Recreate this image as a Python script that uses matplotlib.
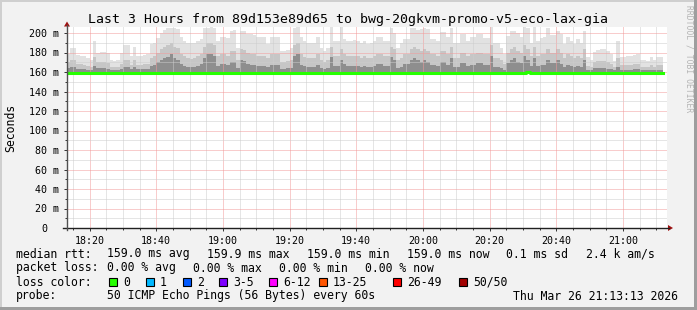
import matplotlib
matplotlib.use("Agg")
import matplotlib.pyplot as plt
import matplotlib.transforms as mtransforms
import numpy as np
from matplotlib.lines import Line2D
from matplotlib.patches import Rectangle, Polygon

W, H = 697, 310
MONO = "DejaVu Sans Mono"

# time axis in minutes since midnight, one smoke column per minute
col_start = 18 * 60 + 13
view_start = 18 * 60 + 13 + 13 / 60
view_end = view_start + 180

# smoke: top of the lightest band (max ping), mid band and dark band, in ms
smoke_max = [
    178, 185, 185, 177, 176, 176, 174, 172, 192, 180,
    181, 181, 180, 172, 171, 172, 179, 188, 188, 176,
    186, 176, 176, 177, 178, 189, 190, 195, 200, 203,
    205, 205, 205, 204, 196, 192, 190, 190, 190, 192,
    194, 205, 205, 206, 205, 192, 196, 196, 195, 202,
    203, 185, 202, 202, 199, 199, 198, 196, 196, 196,
    189, 196, 196, 196, 182, 182, 183, 185, 205, 206,
    196, 192, 190, 190, 190, 196, 185, 182, 185, 206,
    192, 192, 206, 194, 192, 192, 193, 192, 190, 192,
    189, 190, 192, 196, 196, 192, 192, 205, 200, 185,
    190, 194, 194, 205, 205, 203, 204, 205, 204, 194,
    194, 192, 201, 201, 196, 205, 190, 190, 199, 199,
    192, 196, 196, 199, 199, 195, 195, 206, 190, 190,
    185, 178, 197, 202, 202, 200, 196, 206, 205, 190,
    206, 192, 195, 196, 205, 198, 198, 202, 199, 189,
    196, 192, 189, 194, 190, 202, 175, 172, 181, 183,
    184, 184, 182, 178, 171, 192, 175, 175, 176, 176,
    177, 178, 172, 172, 171, 175, 172, 175, 175,
]
smoke_q90 = [
    170, 172, 172, 168, 168, 167, 166, 165, 175, 170,
    170, 170, 169, 165, 165, 165, 168, 172, 172, 167,
    172, 167, 167, 168, 168, 174, 176, 180, 184, 186,
    188, 190, 186, 185, 178, 176, 174, 173, 174, 176,
    178, 186, 190, 190, 188, 176, 178, 178, 176, 182,
    182, 172, 184, 183, 180, 178, 178, 176, 176, 176,
    174, 178, 178, 178, 170, 170, 171, 172, 188, 190,
    178, 175, 174, 174, 174, 178, 172, 170, 172, 186,
    176, 176, 184, 178, 176, 176, 176, 176, 174, 176,
    174, 174, 176, 178, 178, 176, 176, 186, 184, 172,
    174, 178, 178, 184, 186, 184, 182, 184, 182, 178,
    178, 176, 182, 182, 178, 186, 174, 174, 180, 180,
    176, 178, 178, 180, 180, 178, 178, 188, 174, 174,
    172, 168, 180, 184, 186, 182, 180, 188, 184, 176,
    186, 176, 178, 178, 184, 180, 180, 184, 180, 174,
    178, 176, 174, 176, 174, 184, 166, 165, 170, 171,
    171, 171, 170, 168, 165, 174, 167, 167, 167, 167,
    168, 168, 165, 165, 165, 167, 165, 167, 167,
]
smoke_q75 = [
    164, 165, 165, 163, 163, 163, 162, 162, 166, 164,
    164, 164, 163, 162, 162, 162, 163, 165, 165, 163,
    165, 163, 163, 163, 163, 166, 167, 170, 172, 174,
    175, 178, 174, 172, 168, 166, 165, 165, 165, 166,
    168, 174, 178, 178, 176, 166, 168, 168, 167, 170,
    170, 164, 172, 171, 168, 167, 167, 166, 166, 166,
    165, 167, 167, 167, 163, 163, 164, 164, 176, 178,
    167, 166, 165, 165, 165, 167, 164, 163, 164, 175,
    166, 166, 172, 168, 166, 166, 166, 166, 165, 166,
    165, 165, 166, 168, 168, 166, 166, 175, 172, 164,
    165, 168, 168, 172, 174, 172, 170, 172, 170, 167,
    167, 166, 170, 170, 167, 174, 165, 165, 169, 169,
    166, 167, 167, 169, 169, 167, 167, 176, 165, 165,
    164, 162, 169, 172, 174, 170, 169, 176, 172, 166,
    174, 166, 167, 167, 172, 169, 169, 172, 168, 165,
    167, 166, 165, 166, 165, 172, 162, 162, 164, 164,
    164, 164, 163, 163, 162, 165, 162, 162, 162, 162,
    163, 163, 162, 162, 162, 162, 162, 162, 162,
]
median = [
    159.0, 159.0, 159.0, 159.0, 159.0, 159.0, 159.0, 159.0, 159.0, 159.0,
    159.0, 159.0, 159.0, 159.0, 159.0, 159.0, 159.0, 159.0, 159.0, 159.0,
    159.0, 159.0, 159.0, 159.0, 159.0, 159.0, 159.0, 159.0, 159.0, 159.0,
    159.0, 159.0, 159.0, 159.0, 159.0, 159.0, 159.0, 159.0, 159.0, 159.0,
    159.0, 159.0, 159.0, 159.0, 159.0, 159.0, 159.0, 159.0, 159.0, 159.0,
    159.0, 159.0, 159.0, 159.0, 159.0, 159.0, 159.0, 159.0, 159.0, 159.0,
    159.0, 159.0, 159.0, 159.0, 159.0, 159.0, 159.0, 159.0, 159.0, 159.0,
    159.0, 159.0, 159.0, 159.0, 159.0, 159.0, 159.0, 159.0, 159.0, 159.0,
    159.0, 159.0, 159.0, 159.0, 159.0, 159.0, 159.0, 159.0, 159.0, 159.0,
    159.0, 159.0, 159.0, 159.0, 159.0, 159.0, 159.0, 159.0, 159.0, 159.0,
    159.0, 159.0, 159.0, 159.0, 159.0, 159.0, 159.0, 159.0, 159.0, 159.0,
    159.0, 159.0, 159.0, 159.0, 159.0, 159.0, 159.0, 159.0, 159.0, 159.0,
    159.0, 159.0, 159.0, 159.0, 159.0, 159.0, 159.0, 159.0, 159.0, 159.0,
    159.0, 159.0, 159.0, 159.0, 159.0, 159.0, 159.0, 159.0, 159.9, 159.0,
    159.0, 159.0, 159.0, 159.0, 159.0, 159.0, 159.0, 159.0, 159.0, 159.0,
    159.0, 159.0, 159.0, 159.0, 159.0, 159.0, 159.0, 159.0, 159.0, 159.0,
    159.0, 159.0, 159.0, 159.0, 159.0, 159.0, 159.0, 159.0, 159.0, 159.0,
    159.0, 159.0, 159.0, 159.0, 159.0, 159.0, 159.0, 159.0, 159.0,
]

y_ticks = [0, 20, 40, 60, 80, 100, 120, 140, 160, 180, 200]
y_labels = ["0", "20 m", "40 m", "60 m", "80 m", "100 m", "120 m",
            "140 m", "160 m", "180 m", "200 m"]
x_ticks = [1100, 1120, 1140, 1160, 1180, 1200, 1220, 1240, 1260]
x_labels = ["18:20", "18:40", "19:00", "19:20", "19:40",
            "20:00", "20:20", "20:40", "21:00"]

title = "Last 3 Hours from 89d153e89d65 to bwg-20gkvm-promo-v5-eco-lax-gia"
legend_rtt = ["159.0 ms avg", "159.9 ms max", "159.0 ms min",
              "159.0 ms now", "0.1 ms sd", "2.4 k am/s"]
legend_loss = ["0.00 % avg", "0.00 % max", "0.00 % min", "0.00 % now"]
loss_labels = ["0", "1", "2", "3-5", "6-12", "13-25", "26-49", "50/50"]
loss_colors = ["#26ff00", "#00b8ff", "#0059ff", "#7e00ff",
               "#ff00ff", "#ff5500", "#ff0000", "#a10000"]
probe_text = "50 ICMP Echo Pings (56 Bytes) every 60s"
stamp = "Thu Mar 26 21:13:13 2026"


def fx(x):
    return x / W


def fy(y):
    return 1 - y / H


fig = plt.figure(figsize=(W / 100, H / 100), dpi=100)
fig.patch.set_facecolor("#f2f2f2")

# 3d-ish frame around the canvas
fig.add_artist(Rectangle((0, fy(2)), 1, 2 / H, transform=fig.transFigure, color="#cfcfcf", lw=0))
fig.add_artist(Rectangle((0, 0), 2 / W, 1, transform=fig.transFigure, color="#cfcfcf", lw=0))
fig.add_artist(Rectangle((fx(694), 0), 3 / W, 1, transform=fig.transFigure, color="#9e9e9e", lw=0))
fig.add_artist(Rectangle((0, 0), 1, 3 / H, transform=fig.transFigure, color="#9e9e9e", lw=0))

ax = fig.add_axes([fx(67), fy(228), 600 / W, 201 / H])
ax.set_facecolor("white")
ax.set_xlim(view_start, view_end)
ax.set_ylim(0, 201 / 0.975)

n = len(smoke_max)
edges = col_start + np.arange(n + 1)
med = np.append(median, median[-1])
for vals, col in [(smoke_max, "#e2e2e2"), (smoke_q90, "#c6c6c6"), (smoke_q75, "#8e8e8e")]:
    v = np.append(vals, vals[-1])
    ax.fill_between(edges, med, v, step="post", color=col, lw=0, zorder=1)

ax.step(edges, med, where="post", color="#26ff00", lw=2.2, zorder=4)

# grid
ax.set_xticks(x_ticks)
ax.set_xticklabels(x_labels)
ax.set_xticks(np.arange(1095, 1275, 5), minor=True)
ax.set_yticks(y_ticks)
ax.set_yticklabels(y_labels)
ax.set_yticks(np.arange(10, 210, 20), minor=True)
ax.set_axisbelow(False)
ax.grid(which="major", color="#f29a9a", lw=0.72, linestyle=(0, (1, 1)))
ax.grid(which="minor", color="#cdcdcd", lw=0.72, linestyle=(0, (1, 1)))

for s in ax.spines.values():
    s.set_visible(False)
ax.tick_params(which="major", length=2.5, width=0.7, color="#333333",
               labelsize=7.2, pad=3.2, labelcolor="black")
ax.tick_params(which="minor", length=1.5, width=0.7, color="#333333")
for lab in ax.get_xticklabels() + ax.get_yticklabels():
    lab.set_family(MONO)
# rrdtool leaves the zero label without the unit, aligned on the digits
zero_lab = ax.get_yticklabels()[0]
zero_lab.set_transform(zero_lab.get_transform() +
                       mtransforms.ScaledTranslation(-0.12, 0, fig.dpi_scale_trans))

# axis lines with arrows
fig.add_artist(Line2D([fx(63), fx(669)], [fy(228), fy(228)], color="#202020", lw=1.0))
fig.add_artist(Line2D([fx(67), fx(67)], [fy(230), fy(25)], color="#505050", lw=1.0))
fig.add_artist(Polygon([[fx(668), fy(225)], [fx(668), fy(231)], [fx(673), fy(228)]],
                       closed=True, transform=fig.transFigure, color="#a01010", lw=0))
fig.add_artist(Polygon([[fx(64), fy(26.5)], [fx(70), fy(26.5)], [fx(67), fy(21.5)]],
                       closed=True, transform=fig.transFigure, color="#a01010", lw=0))

fig.text(fx(348), fy(23.5), title, family=MONO, fontsize=9.5, ha="center", va="baseline")
fig.text(fx(10.5), fy(127.5), "Seconds", family=MONO, fontsize=8.3,
         rotation=90, ha="center", va="center")
fig.text(fx(688.5), fy(5), "RRDTOOL / TOBI OETIKER", family=MONO, fontsize=5.8,
         rotation=270, ha="center", va="top", color="#b4b4b4")

fs = 8.3
fig.text(fx(16), fy(257.5), "median rtt:", family=MONO, fontsize=fs, va="baseline")
for xp, t in zip([107, 207, 307, 407, 506, 586], legend_rtt):
    fig.text(fx(xp), fy(257.5), t, family=MONO, fontsize=fs, va="baseline")

fig.text(fx(16), fy(271.5), "packet loss:", family=MONO, fontsize=fs, va="baseline")
for xp, t in zip([107, 193, 279, 365], legend_loss):
    fig.text(fx(xp), fy(271.5), t, family=MONO, fontsize=fs, va="baseline")

fig.text(fx(16), fy(285.5), "loss color:", family=MONO, fontsize=fs, va="baseline")
for xp, t, c in zip([109, 146, 183, 219, 269, 319, 393, 459], loss_labels, loss_colors):
    fig.add_artist(Rectangle((fx(xp), fy(286)), 7.5 / W, 8 / H, transform=fig.transFigure,
                             facecolor=c, edgecolor="black", lw=0.8))
    fig.text(fx(xp + 14), fy(285.5), t, family=MONO, fontsize=fs, va="baseline")

fig.text(fx(16), fy(299.5), "probe:", family=MONO, fontsize=fs, va="baseline")
fig.text(fx(107), fy(299.5), probe_text, family=MONO, fontsize=fs, va="baseline")
fig.text(fx(513), fy(299.5), stamp, family=MONO, fontsize=fs, va="baseline")

fig.savefig("out.png", dpi=100, facecolor=fig.get_facecolor())
